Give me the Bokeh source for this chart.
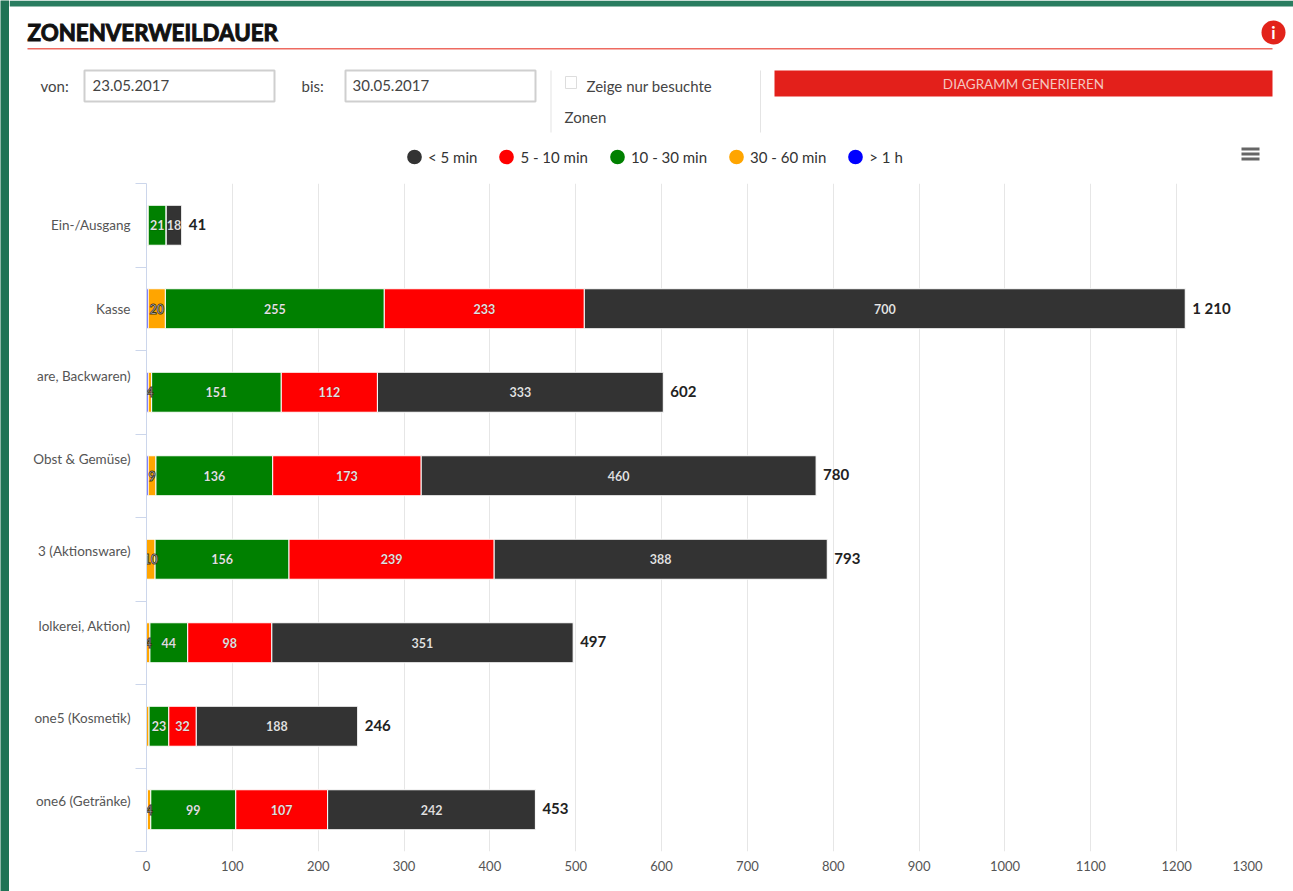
from bokeh.plotting import figure
from bokeh.embed import file_html
from bokeh.resources import INLINE
from bokeh.models import Range1d, FixedTicker, Legend, LegendItem, ColumnDataSource, Row, Column
from bokeh.core.properties import value

zones = ["Ein-/Ausgang", "Kasse", "are, Backwaren)", "Obst & Gemüse)", "3 (Aktionsware)",
         "lolkerei, Aktion)", "one5 (Kosmetik)", "one6 (Getränke)"]
under_5 = [18, 700, 333, 460, 388, 351, 188, 242]
min_5_10 = [0, 233, 112, 173, 239, 98, 32, 107]
min_10_30 = [21, 255, 151, 136, 156, 44, 23, 99]
min_30_60 = [1, 20, 4, 9, 10, 4, 3, 4]
over_1h = [1, 2, 2, 2, 0, 0, 0, 1]
totals = [41, 1210, 602, 780, 793, 497, 246, 453]
series_names = ["> 1 h", "30 - 60 min", "10 - 30 min", "5 - 10 min", "< 5 min"]
series_values = [over_1h, min_30_60, min_10_30, min_5_10, under_5]
series_colors = ["#0000ff", "#ffa500", "#008000", "#ff0000", "#333333"]
label_shift = [0.0, 0.0, 0.2, 0.2, 0.1, 0.2, 0.1, 0.1]
x_ticks = list(range(0, 1301, 100))

FONT = "Lato"
BAND = 9        # width of the green strip at the left
HEAD = 180      # height of the page header

# ---------------------------------------------------------------- chart
p = figure(width=1293 - BAND, height=891 - HEAD, output_backend="svg", toolbar_location=None,
           x_range=Range1d(0, 1300), y_range=Range1d(8, 0),
           min_border_left=146 - BAND, min_border_right=31, min_border_top=183 - HEAD, min_border_bottom=40,
           outline_line_color=None, background_fill_color="white", border_fill_color="white")

ypos = [i + 0.5 for i in range(len(zones))]
data = {"y": ypos}
for n, v in zip(series_names, series_values):
    data[n] = v
src = ColumnDataSource(data)
p.hbar_stack(series_names, y="y", height=0.479, color=series_colors, line_color="white",
             line_width=1, source=src)

lx, ly, lt, lo = [], [], [], []
for i in range(len(zones)):
    c = 0
    for k, s in enumerate(series_values):
        v = s[i]
        if v >= 4:
            lx.append(c + v / 2); ly.append(ypos[i]); lt.append(str(v))
            lo.append("rgba(0,0,0,0.75)" if k <= 1 else "rgba(0,0,0,0.2)")
        c += v
p.text(x="x", y="y", text="t", text_outline_color="o",
       source=ColumnDataSource(dict(x=lx, y=ly, t=lt, o=lo)), text_color="white",
       text_font=value(FONT), text_font_size="12.5px", text_font_style="bold",
       text_align="center", text_baseline="middle")

p.text(x=totals, y=ypos, text=[f"{t:,}".replace(",", " ") for t in totals], x_offset=7, y_offset=-1,
       text_color="#222222", text_font=value(FONT), text_font_size="15px", text_font_style="bold",
       text_align="left", text_baseline="middle")

xa = p.xaxis[0]
last_label_at = x_ticks[-1] - 17.5     # the last tick label is pulled inside the plot
xa.ticker = FixedTicker(ticks=x_ticks[:-1] + [last_label_at])
xa.major_label_overrides = {last_label_at: str(x_ticks[-1])}
xa.axis_line_color = None
xa.major_tick_line_color = None
xa.minor_tick_line_color = None
xa.major_tick_out = 0
xa.major_tick_in = 0
xa.major_label_text_font = FONT
xa.major_label_text_font_size = "13px"
xa.major_label_text_color = "#555555"
xa.major_label_standoff = 9
p.xgrid[0].ticker = FixedTicker(ticks=x_ticks)
p.xgrid[0].grid_line_color = "#e6e6e6"
p.ygrid[0].grid_line_color = None

ya = p.yaxis[0]
ya.ticker = FixedTicker(ticks=[y - s for y, s in zip(ypos, label_shift)],
                        minor_ticks=list(range(len(zones) + 1)))
ya.major_label_overrides = {y - s: z for y, s, z in zip(ypos, label_shift, zones)}
ya.axis_line_color = "#ccd6eb"
ya.major_tick_line_color = None
ya.major_tick_out = 0
ya.major_tick_in = 0
ya.minor_tick_line_color = "#ccd6eb"
ya.minor_tick_out = 11
ya.minor_tick_in = 0
ya.major_label_standoff = 5
ya.major_label_text_font = FONT
ya.major_label_text_font_size = "13.5px"
ya.major_label_text_color = "#555555"

# ---------------------------------------------------------------- header
h = figure(width=1293 - BAND, height=HEAD, output_backend="svg", toolbar_location=None,
           x_range=Range1d(BAND, 1293), y_range=Range1d(HEAD, 0), x_axis_type=None, y_axis_type=None,
           min_border=0, outline_line_color=None, background_fill_color="white",
           border_fill_color="white")
h.grid.visible = False


def box(x0, y0, x1, y1, fill="white", line=None, lw=1):
    h.quad(left=[x0], right=[x1], top=[y0], bottom=[y1], fill_color=fill, line_color=line, line_width=lw)


def txt(x, y, s, size=15, color="#444444", align="left", style="normal", outline=None):
    h.text(x=[x], y=[y - 1], text=[s], text_font=value(FONT), text_font_size=f"{size}px",
           text_color=color, text_align=align, text_baseline="middle", text_font_style=style,
           text_outline_color=outline)


box(BAND, 0, 1293, 6, fill="#2a7d60")
box(27, 47.5, 1272, 49, fill="#ee6a60")
h.scatter(x=[1273], y=[32], marker="circle", size=24, fill_color="#e2231a", line_color=None)
box(84, 70, 274, 101, line="#cfcfcf", lw=2)
box(345, 70, 535, 101, line="#cfcfcf", lw=2)
box(550, 70, 551, 132, fill="#e4e4e4")
box(759.5, 70, 760.5, 132, fill="#e4e4e4")
box(565, 76, 576, 88, line="#dddddd")
box(774, 70, 1272, 96, fill="#e3201b")
for yy in (147, 152, 157):
    box(1241, yy, 1259, yy + 3, fill="#666666")

txt(27, 33, "ZONENVERWEILDAUER", size=22.3, color="#111111", style="bold", outline="#111111")
txt(1273, 33, "i", size=17, color="white", align="center", style="bold")
txt(40, 86, "von:")
txt(92, 86, "23.05.2017")
txt(301, 86, "bis:")
txt(352, 86, "30.05.2017")
txt(586, 86, "Zeige nur besuchte")
txt(564, 117, "Zonen")
txt(1023, 84, "DIAGRAMM GENERIEREN", size=13.5, color="#f4c6c0", align="center")

items = []
for k in [4, 3, 2, 1, 0]:
    r = h.scatter(x=[float("nan")], y=[float("nan")], marker="circle", size=15, line_width=3.5,
                  fill_color=series_colors[k], line_color=series_colors[k])
    items.append(LegendItem(label=series_names[k], renderers=[r]))
leg = Legend(items=items, orientation="horizontal", location=(414 - 14 - BAND, HEAD - 157 - 18),
             glyph_width=28, glyph_height=37, label_standoff=0, spacing=15, padding=0, margin=0,
             border_line_color=None, background_fill_alpha=0,
             label_text_font=FONT, label_text_font_size="15px", label_text_color="#333333",
             label_height=15)
h.add_layout(leg, "center")

# ---------------------------------------------------------------- green strip at the left
g = figure(width=BAND, height=891, output_backend="svg", toolbar_location=None,
           x_axis_type=None, y_axis_type=None, min_border=0, outline_line_color=None,
           background_fill_color="#1f7355", border_fill_color="#1f7355")
g.grid.visible = False

page = Row(children=[g, Column(children=[Row(children=[h], spacing=0), Row(children=[p], spacing=0)], spacing=0)], spacing=0)
open("out.html", "w").write(file_html(page, INLINE))
